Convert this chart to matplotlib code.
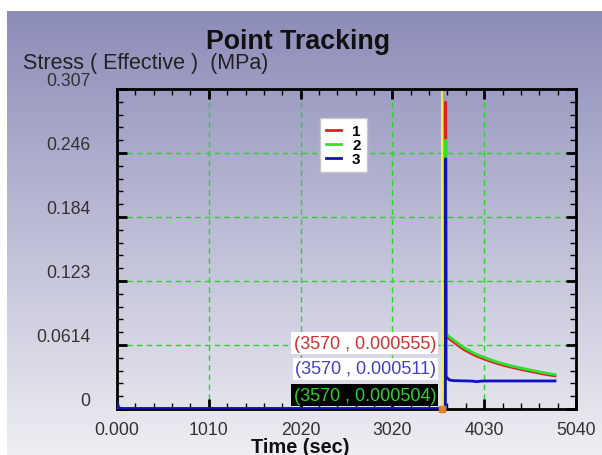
import numpy as np
import matplotlib
matplotlib.use("Agg")
import matplotlib.pyplot as plt
from matplotlib.ticker import AutoMinorLocator
from matplotlib.transforms import ScaledTranslation

plt.rcParams['font.family'] = ['Liberation Sans', 'DejaVu Sans']

# Data
time_s = [0, 20, 60, 500, 1500, 2500, 3570, 3605, 3609, 3614, 3650, 3700, 3800,
          3900, 3950, 4000, 4100, 4200, 4300, 4400, 4500, 4600, 4700, 4810]
stress_1 = [0.0006, 0.0006, 0.0006, 0.0006, 0.0006, 0.0006, 0.000555, 0.0006, 0.2945,
            0.0700, 0.0672, 0.0640, 0.0575, 0.0527, 0.0507, 0.0490, 0.0458, 0.0430,
            0.0407, 0.0387, 0.0368, 0.0350, 0.0333, 0.0318]
stress_2 = [0.0005, 0.0005, 0.0005, 0.0005, 0.0005, 0.0005, 0.000504, 0.0005, 0.258,
            0.0722, 0.0693, 0.0660, 0.0594, 0.0545, 0.0524, 0.0506, 0.0473, 0.0444,
            0.0420, 0.0400, 0.0381, 0.0363, 0.0346, 0.0331]
stress_3 = [0.007, 0.001, 0.0005, 0.0005, 0.0005, 0.0005, 0.000511, 0.0005, 0.240,
            0.0310, 0.0278, 0.0272, 0.0270, 0.0268, 0.0262, 0.0268, 0.0269, 0.0269,
            0.0269, 0.0269, 0.0269, 0.0269, 0.0269, 0.0269]
series_names = ['1', '2', '3']
series_colors = ['#e02020', '#30e030', '#1010c0']

cursor_time = 3570
cursor_labels = ['(3570 , 0.000555)', '(3570 , 0.000511)', '(3570 , 0.000504)']
cursor_label_y = [0.0633, 0.0384, 0.0134]

x_ticks = [0, 1008, 2016, 3024, 4032, 5040]
x_tick_labels = ['0.000', '1010', '2020', '3020', '4030', '5040']
y_ticks = [0, 0.0614, 0.1228, 0.1842, 0.2456, 0.307]
y_tick_labels = ['0', '0.0614', '0.123', '0.184', '0.246', '0.307']

W, H = 602, 456
fig = plt.figure(figsize=(W / 100, H / 100), dpi=100, facecolor='white')

# gradient background
bg = fig.add_axes([7 / W, 0, (W - 7) / W, (H - 12) / H])
top = np.array([140, 140, 185]) / 255
bottom = np.array([238, 238, 243]) / 255
t = np.linspace(0, 1, 256)[:, None]
grad = top[None, :] * (1 - t) + bottom[None, :] * t
bg.imshow(grad[:, None, :], aspect='auto', extent=[0, 1, 0, 1])
bg.axis('off')

ax = fig.add_axes([117 / W, (H - 410) / H, 459 / W, 320 / H])
ax.patch.set_alpha(0)

for vals, name, col in zip([stress_1, stress_2, stress_3], series_names, series_colors):
    ax.plot(time_s, vals, color=col, lw=2, label=name, zorder=3)

ax.axvline(cursor_time, color='#f0f040', lw=1.5, zorder=2)
ax.plot([cursor_time], [0], marker='s', ms=4, color='#e08030', clip_on=False, zorder=4)

label_colors = ['#d03030', '#4040c0', '#30d030']
label_bg = ['white', 'white', 'black']
for txt, yv, c, b in zip(cursor_labels, cursor_label_y, label_colors, label_bg):
    ax.text(3503, yv, txt, color=c, fontsize=13, ha='right', va='center', zorder=5,
            bbox=dict(boxstyle='square,pad=0.12', fc=b, ec='none'))

ax.set_xlim(0, 5040)
ax.set_ylim(0, 0.307)
ax.set_xticks(x_ticks)
ax.set_xticklabels(x_tick_labels)
ax.set_yticks(y_ticks)
ax.set_yticklabels(y_tick_labels)
ax.xaxis.set_minor_locator(AutoMinorLocator(5))
ax.yaxis.set_minor_locator(AutoMinorLocator(5))
ax.grid(True, which='major', color='#30d030', ls=(0, (4, 3)), lw=1)
ax.tick_params(which='both', direction='in', top=True, right=True, colors='black',
               labelcolor='#333333', labelsize=12.7)
ax.tick_params(which='major', length=7, width=2)
ax.tick_params(which='minor', length=4, width=1)
ax.tick_params(axis='x', pad=9)
ax.tick_params(axis='y', pad=19)
for lab in ax.get_yticklabels():
    lab.set_transform(lab.get_transform() + ScaledTranslation(0, 0.10, fig.dpi_scale_trans))
for sp in ax.spines.values():
    sp.set_linewidth(2)
    sp.set_color('black')

leg = ax.legend(loc='upper left', bbox_to_anchor=(320 / W, 1 - 119 / H),
                bbox_transform=fig.transFigure, prop={'weight': 'bold', 'size': 11},
                handlelength=1.0, handletextpad=0.7, labelspacing=0.0,
                borderpad=0.4, borderaxespad=0, frameon=True, fancybox=False)
leg.get_frame().set_facecolor('white')
leg.get_frame().set_edgecolor('#c8c8c8')
leg.get_frame().set_alpha(1)
leg.set_zorder(6)

fig.text(298 / W, 1 - 42 / H, 'Point Tracking', fontsize=19.3, fontweight='bold',
         ha='center', va='center', color='#111111')
fig.text(23 / W, 1 - 69 / H, 'Stress ( Effective )  (MPa)', fontsize=15.5,
         ha='left', va='baseline', color='#222222')
fig.text(300 / W, 1 - 453 / H, 'Time (sec)', fontsize=14.4, fontweight='bold',
         ha='center', va='baseline', color='#111111')

fig.savefig('out.png', dpi=100, facecolor='white')
